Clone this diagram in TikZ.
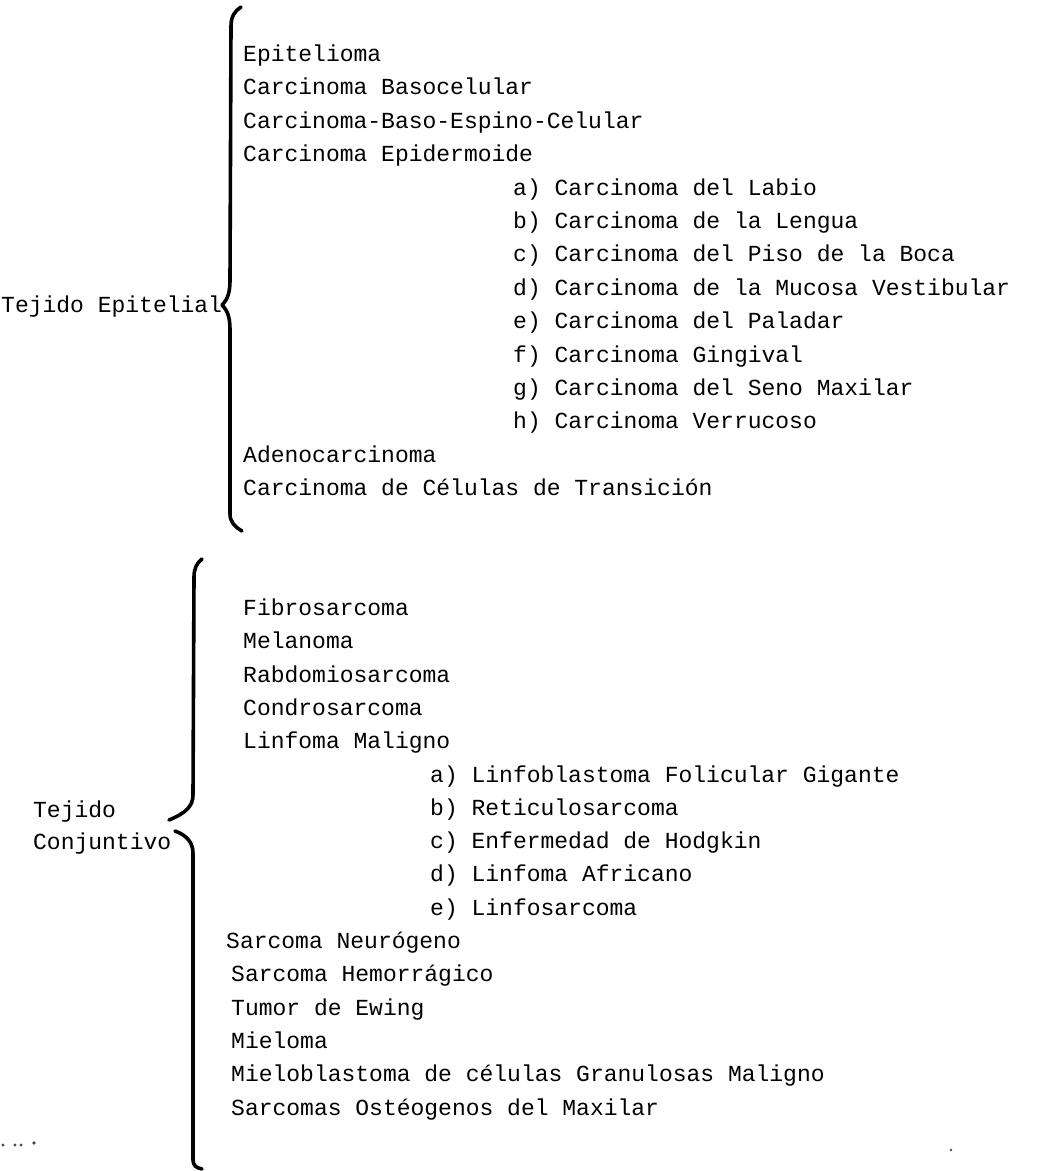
\documentclass[tikz,border=0pt]{standalone}
\usepackage{fontspec}
\setmonofont{Liberation Mono}
\begin{document}
\begin{tikzpicture}[x=1pt,y=-1pt,
  item/.style={anchor=base west, inner sep=0pt, yshift=-7pt, font=\ttfamily\fontsize{23}{27}\selectfont},
  bracepath/.style={line width=3.6pt, line cap=round, line join=round},
  speck/.style={fill=black!70, draw=none}]
\useasboundingbox[fill=white] (0,0) rectangle (1040,1171);

% ---------- Tejido Epitelial ----------
\node[item] (te) at (1,305) {Tejido Epitelial};
\node[item] (e1) at (243,54) {Epitelioma};
\node[item] (e2) at (243,87) {Carcinoma Basocelular};
\node[item] (e3) at (243,121) {Carcinoma-Baso-Espino-Celular};
\node[item] (e4) at (243,154) {Carcinoma Epidermoide};
\node[item] (ea) at (513,188) {a) Carcinoma del Labio};
\node[item] (eb) at (513,221) {b) Carcinoma de la Lengua};
\node[item] (ec) at (513,254) {c) Carcinoma del Piso de la Boca};
\node[item] (ed) at (513,288) {d) Carcinoma de la Mucosa Vestibular};
\node[item] (ee) at (513,321) {e) Carcinoma del Paladar};
\node[item] (ef) at (513,355) {f) Carcinoma Gingival};
\node[item] (eg) at (513,388) {g) Carcinoma del Seno Maxilar};
\node[item] (eh) at (513,421) {h) Carcinoma Verrucoso};
\node[item] (e5) at (243,455) {Adenocarcinoma};
\node[item] (e6) at (243,488) {Carcinoma de Células de Transición};

\draw[bracepath] (241,7) .. controls (235,11) and (231,16) .. (231,26)
  -- (230,280) .. controls (230,292) and (228,299) .. (222,305)
  .. controls (228,311) and (230,318) .. (230,330)
  -- (230,514) .. controls (230,522) and (235,527) .. (242,531);

% ---------- Tejido Conjuntivo ----------
\node[item] (tc1) at (33,810) {Tejido};
\node[item] (tc2) at (33,842) {Conjuntivo};
\node[item] (c1) at (243,608) {Fibrosarcoma};
\node[item] (c2) at (243,641) {Melanoma};
\node[item] (c3) at (243,675) {Rabdomiosarcoma};
\node[item] (c4) at (243,708) {Condrosarcoma};
\node[item] (c5) at (243,741) {Linfoma Maligno};
\node[item] (ca) at (430,775) {a) Linfoblastoma Folicular Gigante};
\node[item] (cb) at (430,808) {b) Reticulosarcoma};
\node[item] (cc) at (430,841) {c) Enfermedad de Hodgkin};
\node[item] (cd) at (430,874) {d) Linfoma Africano};
\node[item] (ce) at (430,908) {e) Linfosarcoma};
\node[item] (c6) at (226,941) {Sarcoma Neurógeno};
\node[item] (c7) at (231,974) {Sarcoma Hemorrágico};
\node[item] (c8) at (231,1008) {Tumor de Ewing};
\node[item] (c9) at (231,1041) {Mieloma};
\node[item] (c10) at (231,1074) {Mieloblastoma de células Granulosas Maligno};
\node[item] (c11) at (231,1108) {Sarcomas Ostéogenos del Maxilar};

\draw[bracepath] (202,559) .. controls (197,563) and (194,568) .. (194,577)
  -- (193,795) .. controls (193,806) and (186,813) .. (169,820);
\draw[bracepath] (175,831) .. controls (186,835) and (193,842) .. (193,853)
  -- (193,1160) .. controls (193,1165) and (196,1168) .. (202,1169);

% scan specks
\fill[speck] (3,1145) circle (1.6);
\fill[speck] (15,1145) circle (1.6);
\fill[speck] (21,1145) circle (1.6);
\fill[speck] (34,1143) circle (1.8);
\fill[speck] (951,1150) circle (1.4);
\end{tikzpicture}
\end{document}
